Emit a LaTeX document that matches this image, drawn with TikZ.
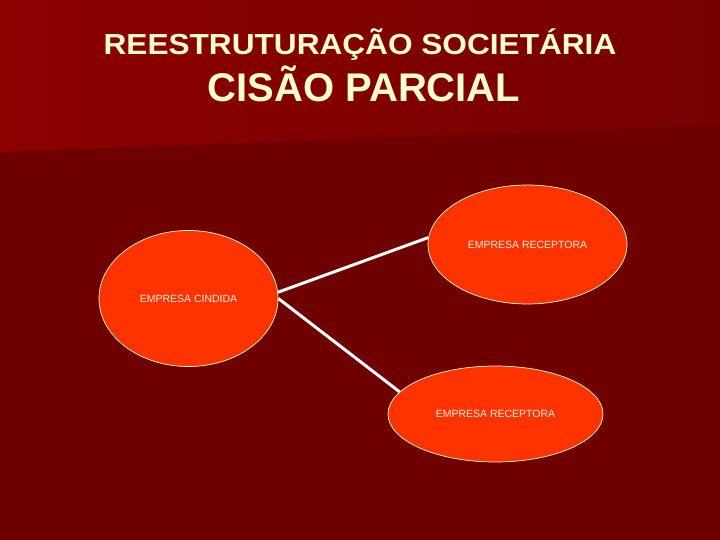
\documentclass[tikz,border=0pt]{standalone}
\usepackage{fontspec}
\usepackage{graphicx}
\setmainfont{Liberation Sans}
\usetikzlibrary{shapes.geometric}
\definecolor{bgdark}{RGB}{110,0,0}
\definecolor{bgtopl}{RGB}{140,0,0}
\definecolor{bgtopr}{RGB}{118,0,0}
\definecolor{titlecol}{RGB}{255,255,204}
\definecolor{ellfill}{RGB}{255,51,0}
\definecolor{elltext}{RGB}{255,240,225}
\tikzset{
  company/.style={ellipse, fill=ellfill, draw=titlecol, line width=0.7pt, inner sep=0pt,
    text=elltext, font=\fontsize{10.5}{12}\selectfont},
  link/.style={draw=white, line width=3pt},
  title/.style={text=titlecol, font=\bfseries, inner sep=0pt, anchor=base}
}
\begin{document}
\begin{tikzpicture}[x=1pt,y=-1pt]
\useasboundingbox (0,0) rectangle (720,540);
\fill[bgdark] (0,0) rectangle (720,540);
\shade[left color=bgtopl, right color=bgtopr] (0,0) -- (720,0) -- (720,125) -- (0,152) -- cycle;
\node[title, font=\bfseries\fontsize{29}{32}\selectfont] (t1) at (360,55) {\scalebox{1.09}[1]{REESTRUTURAÇÃO SOCIETÁRIA}};
\node[title, font=\bfseries\fontsize{40}{44}\selectfont] (t2) at (364,102) {CISÃO PARCIAL};
\node[company, minimum width=179pt, minimum height=136pt] (cind) at (188.5,298.5) {EMPRESA CINDIDA};
\node[company, minimum width=199pt, minimum height=119pt] (rec1) at (527.5,244.5) {EMPRESA RECEPTORA};
\node[company, minimum width=215pt, minimum height=96pt] (rec2) at (495.5,414) {EMPRESA RECEPTORA};
\draw[link] (cind.4) -- (rec1.176);
\draw[link] (cind.0) -- (rec2.167);
\end{tikzpicture}
\end{document}
